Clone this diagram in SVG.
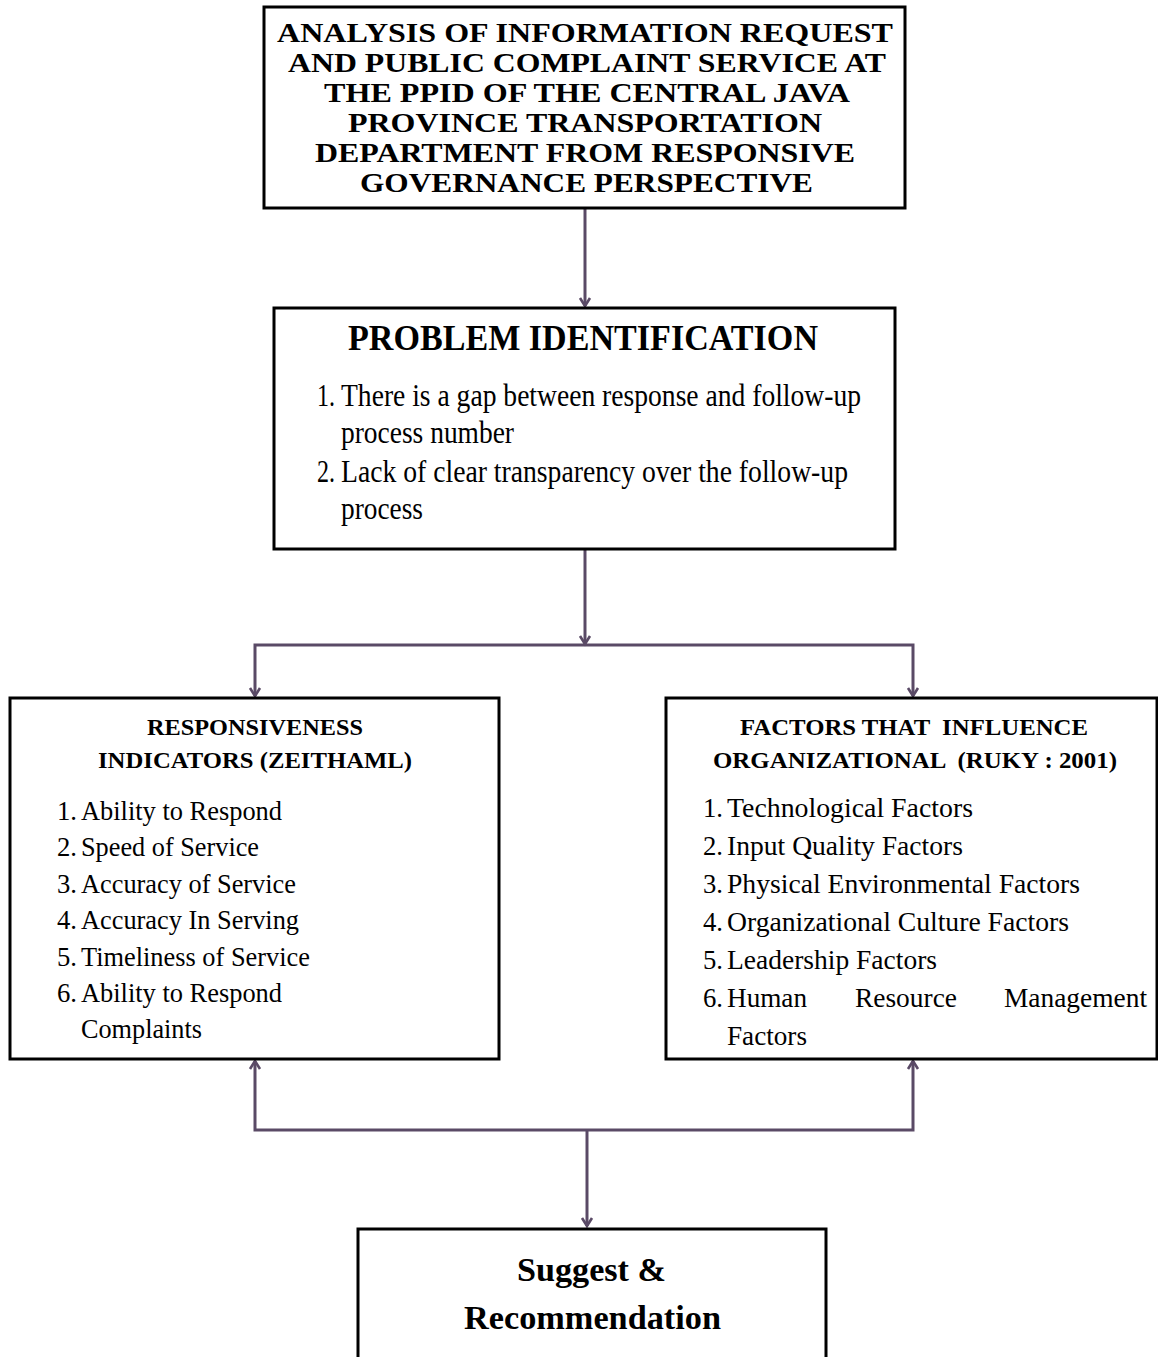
<svg xmlns="http://www.w3.org/2000/svg" width="1158" height="1357" viewBox="0 0 1158 1357">
<defs>
<style>
.box{fill:#fff;stroke:#000;stroke-width:3}
.ttl{font-family:"Liberation Serif","Times New Roman",serif;font-weight:bold;font-size:28px;fill:#000}
.pih{font-family:"Liberation Serif","Times New Roman",serif;font-weight:bold;font-size:35px;fill:#000}
.hd{font-family:"Liberation Serif","Times New Roman",serif;font-weight:bold;font-size:23px;fill:#000}
.it{font-family:"Liberation Serif","Times New Roman",serif;font-size:27px;fill:#000}
.pit{font-family:"Liberation Serif","Times New Roman",serif;font-size:31px;fill:#000}
.sg{font-family:"Liberation Serif","Times New Roman",serif;font-weight:bold;font-size:34px;fill:#000}
.con{fill:none;stroke:#5a4a66;stroke-width:3}
</style>
<marker id="a2" markerUnits="userSpaceOnUse" markerWidth="16" markerHeight="16" viewBox="-12 -8 16 16" refX="0" refY="0" orient="auto-start-reverse">
<path d="M-8,-5 L0,0 L-8,5" fill="none" stroke="#5a4a66" stroke-width="2.6"/>
</marker>
</defs>

<g id="connectors">
<path class="con" d="M585,208 L585,306" marker-end="url(#a2)"/>
<path class="con" d="M585,549 L585,644" marker-end="url(#a2)"/>
<path class="con" d="M255,696 L255,645 L913,645 L913,696" marker-start="url(#a2)" marker-end="url(#a2)"/>
<path class="con" d="M255,1061 L255,1130 L913,1130 L913,1061" marker-start="url(#a2)" marker-end="url(#a2)"/>
<path class="con" d="M587,1130 L587,1226" marker-end="url(#a2)"/>
</g>

<g id="title">
<rect class="box" x="264" y="7" width="641" height="201"/>
<text class="ttl" x="277" y="42" textLength="616" lengthAdjust="spacingAndGlyphs">ANALYSIS OF INFORMATION REQUEST</text>
<text class="ttl" x="288" y="72" textLength="598" lengthAdjust="spacingAndGlyphs">AND PUBLIC COMPLAINT SERVICE AT</text>
<text class="ttl" x="324" y="102" textLength="526" lengthAdjust="spacingAndGlyphs">THE PPID OF THE CENTRAL JAVA</text>
<text class="ttl" x="348" y="132" textLength="474" lengthAdjust="spacingAndGlyphs">PROVINCE TRANSPORTATION</text>
<text class="ttl" x="315" y="162" textLength="540" lengthAdjust="spacingAndGlyphs">DEPARTMENT FROM RESPONSIVE</text>
<text class="ttl" x="360" y="192" textLength="453" lengthAdjust="spacingAndGlyphs">GOVERNANCE PERSPECTIVE</text>
</g>

<g id="problem">
<rect class="box" x="274" y="308" width="621" height="241"/>
<text class="pih" x="348" y="350" textLength="470" lengthAdjust="spacingAndGlyphs">PROBLEM IDENTIFICATION</text>
<text class="pit" x="317" y="406" textLength="18" lengthAdjust="spacingAndGlyphs">1.</text>
<text class="pit" x="341" y="406" textLength="520" lengthAdjust="spacingAndGlyphs">There is a gap between response and follow-up</text>
<text class="pit" x="341" y="443" textLength="173" lengthAdjust="spacingAndGlyphs">process number</text>
<text class="pit" x="317" y="482" textLength="18" lengthAdjust="spacingAndGlyphs">2.</text>
<text class="pit" x="341" y="482" textLength="507" lengthAdjust="spacingAndGlyphs">Lack of clear transparency over the follow-up</text>
<text class="pit" x="341" y="519" textLength="82" lengthAdjust="spacingAndGlyphs">process</text>
</g>

<g id="responsiveness">
<rect class="box" x="10" y="698" width="489" height="361"/>
<text class="hd" x="147" y="735" textLength="216" lengthAdjust="spacingAndGlyphs">RESPONSIVENESS</text>
<text class="hd" x="98" y="768" textLength="314" lengthAdjust="spacingAndGlyphs">INDICATORS (ZEITHAML)</text>
<text class="it" x="57" y="820" textLength="20" lengthAdjust="spacingAndGlyphs">1.</text>
<text class="it" x="81" y="820" textLength="201" lengthAdjust="spacingAndGlyphs">Ability to Respond</text>
<text class="it" x="57" y="856" textLength="20" lengthAdjust="spacingAndGlyphs">2.</text>
<text class="it" x="81" y="856" textLength="178" lengthAdjust="spacingAndGlyphs">Speed of Service</text>
<text class="it" x="57" y="893" textLength="20" lengthAdjust="spacingAndGlyphs">3.</text>
<text class="it" x="81" y="893" textLength="215" lengthAdjust="spacingAndGlyphs">Accuracy of Service</text>
<text class="it" x="57" y="929" textLength="20" lengthAdjust="spacingAndGlyphs">4.</text>
<text class="it" x="81" y="929" textLength="218" lengthAdjust="spacingAndGlyphs">Accuracy In Serving</text>
<text class="it" x="57" y="966" textLength="20" lengthAdjust="spacingAndGlyphs">5.</text>
<text class="it" x="81" y="966" textLength="229" lengthAdjust="spacingAndGlyphs">Timeliness of Service</text>
<text class="it" x="57" y="1002" textLength="20" lengthAdjust="spacingAndGlyphs">6.</text>
<text class="it" x="81" y="1002" textLength="201" lengthAdjust="spacingAndGlyphs">Ability to Respond</text>
<text class="it" x="81" y="1038" textLength="121" lengthAdjust="spacingAndGlyphs">Complaints</text>
</g>

<g id="factors">
<rect class="box" x="666" y="698" width="491" height="361"/>
<text class="hd" x="740" y="735" textLength="348" lengthAdjust="spacingAndGlyphs" xml:space="preserve">FACTORS THAT  INFLUENCE</text>
<text class="hd" x="713" y="768" textLength="404" lengthAdjust="spacingAndGlyphs" xml:space="preserve">ORGANIZATIONAL  (RUKY : 2001)</text>
<text class="it" x="703" y="817" textLength="20" lengthAdjust="spacingAndGlyphs">1.</text>
<text class="it" x="727" y="817" textLength="246" lengthAdjust="spacingAndGlyphs">Technological Factors</text>
<text class="it" x="703" y="855" textLength="20" lengthAdjust="spacingAndGlyphs">2.</text>
<text class="it" x="727" y="855" textLength="236" lengthAdjust="spacingAndGlyphs">Input Quality Factors</text>
<text class="it" x="703" y="893" textLength="20" lengthAdjust="spacingAndGlyphs">3.</text>
<text class="it" x="727" y="893" textLength="353" lengthAdjust="spacingAndGlyphs">Physical Environmental Factors</text>
<text class="it" x="703" y="931" textLength="20" lengthAdjust="spacingAndGlyphs">4.</text>
<text class="it" x="727" y="931" textLength="342" lengthAdjust="spacingAndGlyphs">Organizational Culture Factors</text>
<text class="it" x="703" y="969" textLength="20" lengthAdjust="spacingAndGlyphs">5.</text>
<text class="it" x="727" y="969" textLength="210" lengthAdjust="spacingAndGlyphs">Leadership Factors</text>
<text class="it" x="703" y="1007" textLength="20" lengthAdjust="spacingAndGlyphs">6.</text>
<text class="it" x="727" y="1007" textLength="80" lengthAdjust="spacingAndGlyphs">Human</text>
<text class="it" x="855" y="1007" textLength="102" lengthAdjust="spacingAndGlyphs">Resource</text>
<text class="it" x="1004" y="1007" textLength="143" lengthAdjust="spacingAndGlyphs">Management</text>
<text class="it" x="727" y="1045" textLength="80" lengthAdjust="spacingAndGlyphs">Factors</text>
</g>

<g id="suggest">
<rect class="box" x="358" y="1229" width="468" height="140"/>
<text class="sg" x="517" y="1281" textLength="149" lengthAdjust="spacingAndGlyphs">Suggest &amp;</text>
<text class="sg" x="464" y="1329" textLength="257" lengthAdjust="spacingAndGlyphs">Recommendation</text>
</g>
</svg>
